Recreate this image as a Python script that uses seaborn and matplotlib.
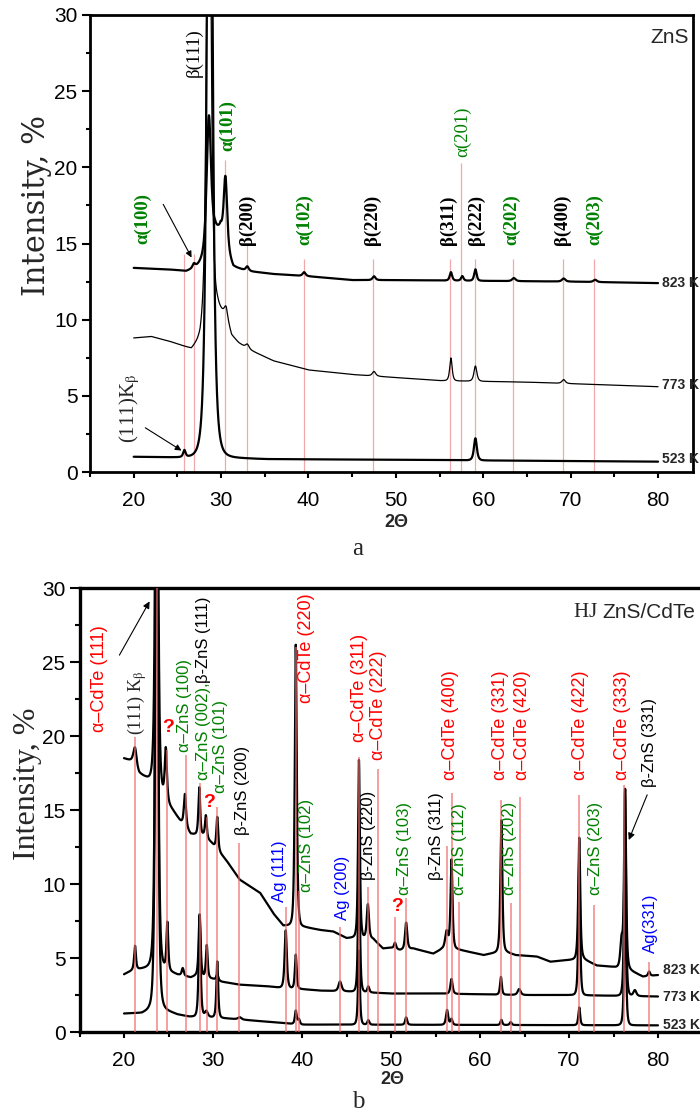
import numpy as np
import pandas as pd
import matplotlib
matplotlib.use("Agg")
import matplotlib.pyplot as plt
import seaborn as sns
from matplotlib.ticker import MultipleLocator

sns.set_theme(style="ticks")
plt.rcParams['font.family'] = ['Liberation Sans', 'DejaVu Sans']
plt.rcParams['mathtext.fontset'] = 'stix'

SERIF = ['Liberation Serif', 'DejaVu Serif']
SANS = ['Liberation Sans', 'DejaVu Sans']
GREEN = '#008000'
RED = '#ff0000'
BLUE = '#0000ff'

# ---------------- panel a : ZnS ----------------
# baseline knots (2theta, %) and peaks (centre, height, half width)
a523_bx = [20, 26, 27.3, 30.5, 35, 50, 80]
a523_by = [1.0, 0.95, 0.92, 0.95, 0.85, 0.8, 0.68]
a523_pos = [25.8, 28.7, 59.1]
a523_h = [0.45, 60, 1.45]
a523_w = [0.25, 0.5, 0.3]

a773_bx = [20, 22, 24, 26.6, 27.6, 28.6, 29.6, 30.6, 31.2, 32, 33, 36, 40, 45, 50, 55, 60, 65, 70, 75, 80]
a773_by = [8.8, 8.9, 8.6, 8.1, 8.7, 10.5, 10.8, 10.2, 9.0, 8.5, 8.1, 7.3, 6.7, 6.4, 6.2, 6.0, 5.95, 5.9, 5.8, 5.7, 5.6]
a773_pos = [28.6, 30.55, 33.0, 47.5, 56.3, 59.1, 69.2]
a773_h = [40, 0.6, 0.3, 0.3, 1.5, 1.0, 0.25]
a773_w = [0.4, 0.35, 0.35, 0.35, 0.25, 0.3, 0.35]

a823_bx = [20, 24, 26, 27, 28, 28.6, 29.3, 29.95, 30.5, 31.4, 33, 36, 40, 45, 50, 60, 70, 80]
a823_by = [13.4, 13.3, 13.2, 13.4, 13.9, 14.4, 15.8, 16.0, 14.6, 13.5, 13.2, 13.0, 12.85, 12.6, 12.6, 12.55, 12.5, 12.4]
a823_pos = [26.9, 28.6, 30.5, 33.0, 39.5, 47.5, 56.3, 57.6, 59.1, 63.5, 69.2, 72.8]
a823_h = [0.3, 9, 4.8, 0.3, 0.25, 0.25, 0.55, 0.3, 0.75, 0.2, 0.2, 0.15]
a823_w = [0.3, 0.45, 0.35, 0.3, 0.3, 0.3, 0.25, 0.25, 0.25, 0.35, 0.35, 0.35]

a_line_pos = [25.78, 26.92, 30.5, 33.0, 39.46, 47.4, 56.2, 57.5, 59.0, 63.4, 69.1, 72.7]
a_line_top = [14.3, 14.3, 20.5, 15.0, 14.0, 14.0, 14.0, 20.3, 14.0, 14.0, 14.0, 14.0]

a_lab_text = ['α(100)', 'β(111)', 'α(101)', 'β(200)', 'α(102)', 'β(220)', 'β(311)',
              'α(201)', 'β(222)', 'α(202)', 'β(400)', 'α(203)']
a_lab_col = [GREEN, 'black', GREEN, 'black', GREEN, 'black', 'black',
             GREEN, 'black', GREEN, 'black', GREEN]
a_lab_wt = ['bold', 'normal', 'bold', 'bold', 'bold', 'bold', 'bold',
            'normal', 'bold', 'bold', 'bold', 'bold']
a_lab_x = [21.06, 26.9, 30.77, 33.06, 39.57, 47.3, 56.0, 57.6, 59.2, 63.3, 69.0, 72.7]
a_lab_y = [15.0, 25.9, 21.1, 14.9, 14.9, 14.9, 14.9, 20.7, 14.9, 14.9, 14.9, 14.9]

# ---------------- panel b : HJ ZnS/CdTe ----------------
b523_bx = [20, 22, 22.8, 24.4, 26, 27.3, 29.8, 31, 33, 36, 38, 40, 45, 80]
b523_by = [1.25, 1.3, 1.5, 1.55, 1.2, 1.05, 1.0, 0.95, 0.85, 0.7, 0.6, 0.5, 0.5, 0.45]
b523_pos = [23.67, 28.5, 29.25, 30.48, 33.0, 39.3, 39.65, 46.4, 47.45, 51.7, 56.3, 56.8,
            62.4, 63.45, 71.15, 76.3]
b523_h = [45, 6.8, 0.4, 3.8, 0.15, 0.9, 0.35, 5, 0.3, 0.5, 1.0, 0.4, 0.35, 0.2, 1.2, 10]
b523_w = [0.25, 0.2, 0.3, 0.18, 0.35, 0.18, 0.2, 0.18, 0.2, 0.2, 0.22, 0.2, 0.18, 0.2, 0.18, 0.18]

b773_bx = [20, 21, 22, 23, 24.4, 26, 27.5, 28, 30, 31, 33, 36, 37.5, 40, 42, 45, 50, 55, 60, 65, 70, 75, 80]
b773_by = [3.9, 4.2, 4.3, 4.4, 4.3, 3.9, 3.7, 3.8, 3.6, 3.4, 3.2, 3.1, 3.0, 2.9, 2.8, 2.75, 2.6,
           2.6, 2.55, 2.5, 2.5, 2.45, 2.4]
b773_pos = [21.24, 23.67, 24.87, 26.6, 28.5, 29.3, 30.48, 38.17, 39.3, 44.27, 46.4, 47.45,
            56.8, 62.35, 64.4, 71.15, 76.3, 77.4]
b773_h = [1.6, 45, 3.2, 0.5, 4.2, 2.2, 0.4, 3.9, 2.3, 0.65, 10, 0.4, 1.0, 1.2, 0.4, 9, 14, 0.4]
b773_w = [0.18, 0.25, 0.18, 0.2, 0.2, 0.18, 0.2, 0.22, 0.18, 0.3, 0.18, 0.2, 0.22, 0.18, 0.3,
          0.18, 0.18, 0.3]

b823_bx = [20, 21, 21.7, 22.5, 23.2, 24.1, 25.5, 26.3, 27.5, 28.9, 29.85, 31.5, 33, 35.3, 36.8,
           37.9, 38.8, 40.3, 42, 43.5, 45, 46, 48, 49.1, 50, 51, 52.5, 54.75, 55.7, 57.4, 60.4,
           62, 63, 64, 66.4, 67.9, 70.5, 71.6, 73.1, 75, 76.8, 78.3, 80]
b823_by = [18.5, 18.3, 17.5, 17.2, 16.9, 16.1, 15.0, 14.3, 13.4, 13.3, 12.8, 11.6, 10.3, 9.4, 8.0,
           7.2, 7.2, 7.1, 6.9, 6.8, 6.35, 6.4, 6.3, 5.65, 5.7, 5.55, 5.65, 5.3, 5.6, 5.6, 5.2,
           5.4, 5.4, 5.2, 5.1, 4.75, 4.9, 4.95, 4.5, 4.4, 4.2, 3.75, 3.85]
b823_pos = [21.24, 23.67, 24.7, 26.85, 28.46, 29.2, 30.48, 39.3, 46.4, 47.4, 50.45, 51.7, 56.25,
            56.8, 62.4, 71.15, 75.9, 76.3, 79.0]
b823_h = [1.2, 40, 3.5, 2.2, 3.2, 1.5, 2.2, 19, 12, 2.3, 0.4, 1.8, 1.2, 6.0, 8.9, 8.2, 1.8, 12, 0.3]
b823_w = [0.3, 0.25, 0.22, 0.22, 0.18, 0.18, 0.18, 0.2, 0.18, 0.22, 0.2, 0.22, 0.3, 0.2, 0.2,
          0.2, 0.25, 0.2, 0.2]

b_line_pos = [21.24, 23.67, 24.87, 26.97, 28.54, 29.29, 30.48, 32.96, 38.17, 39.3, 39.66, 44.27,
              46.4, 47.45, 48.57, 50.45, 51.7, 56.25, 56.8, 57.6, 62.4, 63.45, 64.5, 71.1, 72.85,
              76.2, 79.0]
b_line_top = [19.9, 30, 19.05, 18.7, 16.8, 14.5, 15.2, 12.8, 8.45, 26, 9.5, 7.1, 18.6, 9.8, 17.8,
              7.8, 9.05, 12.6, 16.15, 8.8, 15.7, 8.7, 15.9, 16.0, 8.6, 16.7, 4.7]

b_lab_text = ['α–CdTe (111)', 'α–ZnS (100)', 'α–ZnS (101)', 'β-ZnS (200)', 'Ag (111)',
              'α–CdTe (220)', 'α–ZnS (102)', 'Ag (200)', 'α–CdTe (311)', 'β-ZnS (220)',
              'α–CdTe (222)', 'α–ZnS (103)', 'β-ZnS (311)', 'α–CdTe (400)', 'α–ZnS (112)',
              'α–CdTe (331)', 'α–ZnS (202)', 'α–CdTe (420)', 'α–CdTe (422)', 'α–ZnS (203)',
              'α–CdTe (333)', 'β-ZnS (331)', 'Ag(331)']
b_lab_col = [RED, GREEN, GREEN, 'black', BLUE, RED, GREEN, BLUE, RED, 'black', RED, GREEN,
             'black', RED, GREEN, RED, GREEN, RED, RED, GREEN, RED, 'black', BLUE]
b_lab_x = [17.3, 26.85, 30.8, 33.37, 37.5, 40.56, 40.56, 44.5, 46.5, 47.5, 48.65, 51.57, 55.06,
           56.74, 57.75, 62.25, 63.26, 64.72, 71.24, 73.0, 75.96, 79.1, 79.1]
b_lab_y = [20.27, 18.9, 16.15, 13.3, 8.8, 22.2, 9.46, 7.57, 19.6, 10.3, 18.4, 9.26, 10.3, 17.0,
           9.26, 17.0, 9.26, 17.0, 17.0, 9.26, 17.0, 16.55, 5.34]
b_q_x = [24.94, 29.55, 50.67]
b_q_y = [20.6, 15.5, 8.45]

temps = ['823 K', '773 K', '523 K']
a_temp_y = [12.4, 5.7, 0.85]
b_temp_y = [4.19, 2.36, 0.47]

tt = np.linspace(20, 80, 6001)


def xrd(bx, by, pos, h, w):
    y = np.interp(tt, bx, by)
    for p, hh, ww in zip(pos, h, w):
        y = y + hh / (1 + ((tt - p) / ww) ** 2) ** 2
    return y


def style_axes(ax, xmax, lw, ylen):
    ax.set_xlim(15, xmax)
    ax.set_ylim(0, 30)
    ax.xaxis.set_major_locator(MultipleLocator(10))
    ax.xaxis.set_minor_locator(MultipleLocator(5))
    ax.yaxis.set_major_locator(MultipleLocator(5))
    ax.yaxis.set_minor_locator(MultipleLocator(2.5))
    for s in ax.spines.values():
        s.set_visible(True)
        s.set_linewidth(lw)
        s.set_color('black')
    ax.tick_params(axis='both', which='both', direction='out', width=1.5, color='black',
                   labelsize=15, labelcolor='black')
    ax.tick_params(axis='x', which='major', length=4.5, pad=9)
    ax.tick_params(axis='x', which='minor', length=3.5)
    ax.tick_params(axis='y', which='major', length=ylen, pad=3)
    ax.tick_params(axis='y', which='minor', length=ylen / 2)
    ax.set_xlabel('')
    ax.set_ylabel('')
    ax.grid(False)


fig = plt.figure(figsize=(7, 11.18), dpi=100)

# ---------------- panel a ----------------
ax = fig.add_axes([90 / 700, 1 - 472 / 1118, 603 / 700, 457 / 1118])
ax.vlines(a_line_pos, 0, a_line_top, color='#f0a8a8', lw=0.9, zorder=1)
sns.lineplot(x=tt, y=xrd(a823_bx, a823_by, a823_pos, a823_h, a823_w), ax=ax,
             color='black', lw=1.6, estimator=None, sort=False, zorder=2)
sns.lineplot(x=tt, y=xrd(a773_bx, a773_by, a773_pos, a773_h, a773_w), ax=ax,
             color='black', lw=0.9, estimator=None, sort=False, zorder=2)
sns.lineplot(x=tt, y=xrd(a523_bx, a523_by, a523_pos, a523_h, a523_w), ax=ax,
             color='black', lw=1.6, estimator=None, sort=False, zorder=2)
style_axes(ax, 84, 2.0, 6)

for t, c, wt, x, y in zip(a_lab_text, a_lab_col, a_lab_wt, a_lab_x, a_lab_y):
    ax.text(x, y, t, rotation=90, ha='center', va='bottom', color=c,
            fontsize=13.5, family=SERIF, fontweight=wt)
ax.text(19.57, 1.9, '(111)K$_{\\mathrm{\\beta}}$', rotation=90, ha='center', va='bottom',
        fontsize=15, family=SERIF)
ax.annotate('', xy=(25.74, 1.31), xytext=(21.06, 3.0),
            arrowprops=dict(arrowstyle='-|>', color='black', lw=0.8, mutation_scale=9))
ax.annotate('', xy=(26.77, 13.92), xytext=(23.23, 17.73),
            arrowprops=dict(arrowstyle='-|>', color='black', lw=0.8, mutation_scale=9))
for t, y in zip(temps, a_temp_y):
    ax.text(80.4, y, t, ha='left', va='center', fontsize=10, fontweight='bold', family=SANS)
ax.text(0.993, 0.95, 'ZnS', transform=ax.transAxes, ha='right', va='center',
        fontsize=15, family=SANS)

fig.text(37 / 700, 1 - 205 / 1118, 'Intensity, %', rotation=90, ha='center', va='center',
         fontsize=22, family=['DejaVu Serif'])
fig.text(396 / 700, 1 - 522 / 1118, '2Θ', ha='center', va='center', fontsize=13,
         fontweight='bold', family=SANS)
fig.text(358 / 700, 1 - 549 / 1118, 'a', ha='center', va='center', fontsize=18, family=SERIF)

# ---------------- panel b ----------------
bx = fig.add_axes([79.5 / 700, 1 - 1032 / 1118, 623 / 700, 444 / 1118])
sns.lineplot(x=tt, y=xrd(b823_bx, b823_by, b823_pos, b823_h, b823_w), ax=bx,
             color='black', lw=1.6, estimator=None, sort=False, zorder=2)
sns.lineplot(x=tt, y=xrd(b773_bx, b773_by, b773_pos, b773_h, b773_w), ax=bx,
             color='black', lw=1.6, estimator=None, sort=False, zorder=2)
sns.lineplot(x=tt, y=xrd(b523_bx, b523_by, b523_pos, b523_h, b523_w), ax=bx,
             color='black', lw=1.6, estimator=None, sort=False, zorder=2)
bx.vlines(b_line_pos, 0, b_line_top, color='#f26a6a', lw=1.2, alpha=0.75, zorder=3)
style_axes(bx, 85, 2.4, 7)

for t, c, x, y in zip(b_lab_text, b_lab_col, b_lab_x, b_lab_y):
    size = 13 if 'CdTe' in t else 12
    bx.text(x, y, t, rotation=90, ha='center', va='bottom', color=c, fontsize=size,
            family=SANS)
t1 = bx.text(28.88, 17.0, 'α–ZnS (002),', rotation=90, ha='center', va='bottom',
             color=GREEN, fontsize=12, family=SANS)
bx.annotate('β-ZnS (111)', xy=(0.5, 1.0), xycoords=t1, rotation=90, ha='center',
            va='bottom', color='black', fontsize=12, family=SANS)
bx.text(21.46, 20.07, '(111) K$_{\\mathrm{\\beta}}$', rotation=90, ha='center', va='bottom',
        fontsize=13, family=SERIF)
for x, y in zip(b_q_x, b_q_y):
    bx.text(x, y, '?', ha='center', va='center', color=RED, fontsize=14,
            fontweight='bold', family=SANS)
bx.annotate('', xy=(23.03, 29.26), xytext=(19.33, 25.3),
            arrowprops=dict(arrowstyle='-|>', color='black', lw=0.8, mutation_scale=10))
bx.annotate('', xy=(76.6, 12.8), xytext=(78.9, 16.2),
            arrowprops=dict(arrowstyle='-|>', color='black', lw=0.8, mutation_scale=10))
for t, y in zip(temps, b_temp_y):
    bx.text(80.56, y, t, ha='left', va='center', fontsize=10, fontweight='bold', family=SANS)
t2 = bx.text(0.988, 0.944, 'ZnS/CdTe', transform=bx.transAxes, ha='right', va='center',
             fontsize=15, family=SANS)
bx.annotate('HJ ', xy=(0, 0.5), xycoords=t2, ha='right', va='center', fontsize=15,
            family=SERIF)

fig.text(28 / 700, 1 - 784 / 1118, 'Intensity, %', rotation=90, ha='center', va='center',
         fontsize=23, family=SERIF)
fig.text(392 / 700, 1 - 1080 / 1118, '2Θ', ha='center', va='center', fontsize=13,
         fontweight='bold', family=SANS)
fig.text(358 / 700, 1 - 1102 / 1118, 'b', ha='center', va='center', fontsize=18, family=SERIF)

fig.savefig('out.png', dpi=100)
